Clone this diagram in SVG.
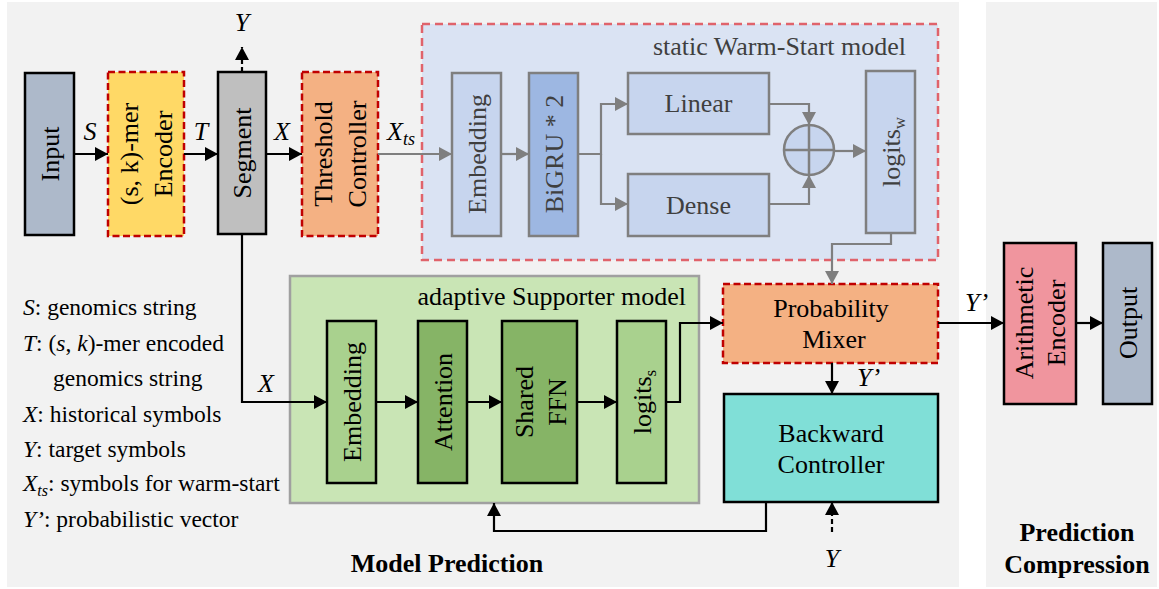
<svg xmlns="http://www.w3.org/2000/svg" width="1159" height="589" viewBox="0 0 1159 589" font-family="'Liberation Serif', 'DejaVu Serif', serif">
<defs>
<marker id="ab" markerUnits="userSpaceOnUse" markerWidth="15" markerHeight="15" refX="13" refY="7" orient="auto"><path d="M0,0 L13,7 L0,14 z" fill="#000"/></marker>
<marker id="ag" markerUnits="userSpaceOnUse" markerWidth="15" markerHeight="15" refX="13" refY="7" orient="auto"><path d="M0,0 L13,7 L0,14 z" fill="#7f7f7f"/></marker>
<style>
text{font-family:'Liberation Serif','DejaVu Serif',serif;font-size:26px;fill:#000}
.it{font-style:italic}
.b{font-weight:bold}
.lg{font-size:23.5px}
.g{fill:#3f3f3f}
.box{stroke:#000;stroke-width:2.5}
.dr{stroke:#c00000;stroke-width:2.5;stroke-dasharray:7,3.5}
.gb{stroke:#7f7f7f;stroke-width:2.5}
.cb{fill:none;stroke:#000;stroke-width:2.2}
.cg{fill:none;stroke:#7f7f7f;stroke-width:2.2}
</style>
</defs>
<rect x="7" y="2" width="952" height="585" fill="#f2f2f2"/>
<rect x="986" y="2" width="171" height="585" fill="#f2f2f2"/>

<g id="warmstart">
<rect x="422" y="24" width="516" height="236" fill="#dae3f3" stroke="#e0636b" stroke-width="2.5" stroke-dasharray="8,5"/>
<text x="906" y="55" text-anchor="end" class="g">static Warm-Start model</text>
</g>
<g id="supporter">
<rect x="290" y="276" width="409" height="227" fill="#c9e5b5" stroke="#a0a0a0" stroke-width="2.5"/>
<text x="686" y="305" text-anchor="end">adaptive Supporter model</text>
</g>

<g id="input"><rect x="25" y="73" width="49" height="162" fill="#adb9ca" class="box"/>
<text transform="translate(49.5,154) rotate(-90)" text-anchor="middle" y="9">Input</text></g>
<g id="encoder"><rect x="108" y="72" width="76" height="164" fill="#ffd966" class="dr"/>
<text transform="translate(146,154) rotate(-90)" text-anchor="middle"><tspan x="0" y="-8">(s, k)-mer</tspan><tspan x="0" y="26">Encoder</tspan></text></g>
<g id="segment"><rect x="218" y="72" width="48" height="162" fill="#bfbfbf" class="box"/>
<text transform="translate(242,153) rotate(-90)" text-anchor="middle" y="9">Segment</text></g>
<g id="threshold"><rect x="302" y="72" width="76" height="164" fill="#f4b183" class="dr"/>
<text transform="translate(340,154) rotate(-90)" text-anchor="middle"><tspan x="0" y="-8">Threshold</tspan><tspan x="0" y="26">Controller</tspan></text></g>

<g id="ws-embedding"><rect x="452" y="73" width="49" height="163" fill="#c7d5ee" class="gb"/>
<text transform="translate(476.5,154) rotate(-90)" text-anchor="middle" y="9" class="g">Embedding</text></g>
<g id="bigru"><rect x="529" y="73" width="49" height="163" fill="#9db7e2" class="gb"/>
<text transform="translate(553.5,154) rotate(-90)" text-anchor="middle" y="9" class="g">BiGRU * 2</text></g>
<g id="linear"><rect x="628" y="73" width="141" height="61" fill="#c7d5ee" class="gb"/>
<text x="698.5" y="112" text-anchor="middle" class="g">Linear</text></g>
<g id="dense"><rect x="628" y="174" width="141" height="62" fill="#c7d5ee" class="gb"/>
<text x="698.5" y="214" text-anchor="middle" class="g">Dense</text></g>
<g id="sum"><circle cx="809" cy="150" r="25" fill="#c7d5ee" class="gb"/>
<path d="M784,150 H834 M809,125 V175" stroke="#7f7f7f" stroke-width="2.5"/></g>
<g id="logits-w"><rect x="866" y="71" width="49" height="162" fill="#c7d5ee" class="gb"/>
<text transform="translate(890.5,152) rotate(-90)" text-anchor="middle" y="9" class="g">logits<tspan font-size="17" dy="5">w</tspan></text></g>

<g id="sup-embedding"><rect x="327" y="321" width="49" height="162" fill="#a9d18e" class="box"/>
<text transform="translate(351.5,402) rotate(-90)" text-anchor="middle" y="9">Embedding</text></g>
<g id="attention"><rect x="418" y="321" width="49" height="162" fill="#86b466" class="box"/>
<text transform="translate(442.5,402) rotate(-90)" text-anchor="middle" y="9">Attention</text></g>
<g id="ffn"><rect x="502" y="321" width="75" height="162" fill="#86b466" class="box"/>
<text transform="translate(539.5,402) rotate(-90)" text-anchor="middle"><tspan x="0" y="-7">Shared</tspan><tspan x="0" y="26">FFN</tspan></text></g>
<g id="logits-s"><rect x="617" y="321" width="49" height="162" fill="#a9d18e" class="box"/>
<text transform="translate(641.5,402) rotate(-90)" text-anchor="middle" y="9">logits<tspan font-size="17" dy="5">s</tspan></text></g>

<g id="mixer"><rect x="723" y="284" width="215" height="79" fill="#f4b183" class="dr"/>
<text x="831" y="317" text-anchor="middle">Probability</text><text x="834" y="348" text-anchor="middle">Mixer</text></g>
<g id="backward"><rect x="724" y="394" width="214" height="108" fill="#80dfd7" class="box"/>
<text x="831" y="442" text-anchor="middle">Backward</text><text x="831" y="473" text-anchor="middle">Controller</text></g>
<g id="arith"><rect x="1004" y="243" width="72" height="161" fill="#f0959e" class="box"/>
<text transform="translate(1040,323) rotate(-90)" text-anchor="middle"><tspan x="0" y="-7">Arithmetic</tspan><tspan x="0" y="25">Encoder</tspan></text></g>
<g id="output"><rect x="1103" y="243" width="49" height="161" fill="#adb9ca" class="box"/>
<text transform="translate(1127.5,323) rotate(-90)" text-anchor="middle" y="9">Output</text></g>

<g id="connectors">
<path class="cb" d="M74,154 H108" marker-end="url(#ab)"/>
<path class="cb" d="M184,154 H218" marker-end="url(#ab)"/>
<path class="cb" d="M266,154 H302" marker-end="url(#ab)"/>
<path class="cb" d="M242,72 V47" stroke-dasharray="5,3" marker-end="url(#ab)"/>
<path class="cg" d="M378,154 H452" marker-end="url(#ag)"/>
<path class="cg" d="M501,154 H529" marker-end="url(#ag)"/>
<path class="cg" d="M578,154 H601 V104 H628" marker-end="url(#ag)"/>
<path class="cg" d="M601,154 V204 H628" marker-end="url(#ag)"/>
<path class="cg" d="M769,104 H809 V125" marker-end="url(#ag)"/>
<path class="cg" d="M769,204 H809 V175" marker-end="url(#ag)"/>
<path class="cg" d="M834,151 H866" marker-end="url(#ag)"/>
<path class="cg" d="M891,233 V244 H832 V284" marker-end="url(#ag)"/>
<path class="cb" d="M242,234 V402 H327" marker-end="url(#ab)"/>
<path class="cb" d="M376,402 H418" marker-end="url(#ab)"/>
<path class="cb" d="M467,402 H502" marker-end="url(#ab)"/>
<path class="cb" d="M577,402 H617" marker-end="url(#ab)"/>
<path class="cb" d="M666,402 H680 V323 H723" marker-end="url(#ab)"/>
<path class="cb" d="M938,323 H1004" marker-end="url(#ab)"/>
<path class="cb" d="M1076,323 H1103" marker-end="url(#ab)"/>
<path class="cb" d="M832,363 V394" marker-end="url(#ab)"/>
<path class="cb" d="M766,502 V531 H494 V503" marker-end="url(#ab)"/>
<path class="cb" d="M832,532 V502" stroke-dasharray="5,3" marker-end="url(#ab)"/>
</g>

<g id="labels">
<text x="90" y="140" text-anchor="middle" class="it">S</text>
<text x="201" y="140" text-anchor="middle" class="it">T</text>
<text x="282" y="140" text-anchor="middle" class="it">X</text>
<text x="387" y="140" class="it">X<tspan font-size="18" dy="5">ts</tspan></text>
<text x="242" y="31" text-anchor="middle" class="it">Y</text>
<text x="266" y="392" text-anchor="middle" class="it">X</text>
<text x="965" y="311" class="it">Y’</text>
<text x="857" y="386" class="it">Y’</text>
<text x="832" y="567" text-anchor="middle" class="it">Y</text>
<text x="447" y="572" text-anchor="middle" class="b">Model Prediction</text>
<text x="1077" y="541" text-anchor="middle" class="b">Prediction</text>
<text x="1077" y="573" text-anchor="middle" class="b">Compression</text>
</g>

<g id="legend">
<text class="lg" x="23" y="315"><tspan class="it">S</tspan>: genomics string</text>
<text class="lg" x="23" y="351"><tspan class="it">T</tspan>: (<tspan class="it">s</tspan>, <tspan class="it">k</tspan>)-mer encoded</text>
<text class="lg" x="53" y="386">genomics string</text>
<text class="lg" x="23" y="422"><tspan class="it">X</tspan>: historical symbols</text>
<text class="lg" x="23" y="457"><tspan class="it">Y</tspan>: target symbols</text>
<text class="lg" x="23" y="491"><tspan class="it">X</tspan><tspan class="it" font-size="16" dy="5">ts</tspan><tspan dy="-5">: symbols for warm-start</tspan></text>
<text class="lg" x="23" y="527"><tspan class="it">Y’</tspan>: probabilistic vector</text>
</g>
</svg>
